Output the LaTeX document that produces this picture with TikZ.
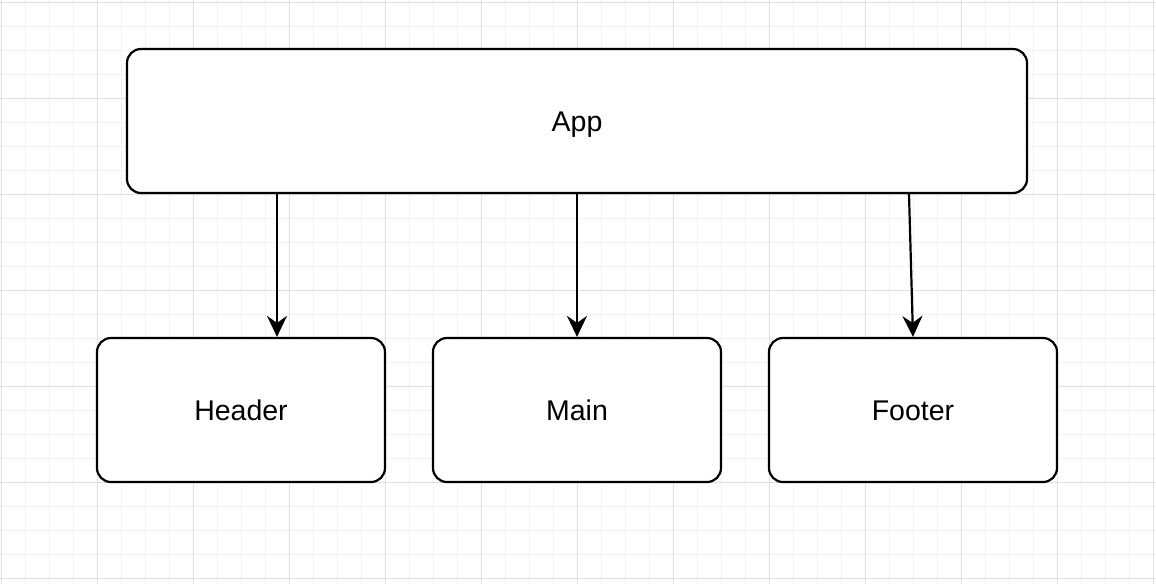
\documentclass[tikz,border=0pt]{standalone}
\usepackage{fontspec}
\setmainfont{Liberation Sans}
\usetikzlibrary{arrows.meta}
\begin{document}
\begin{tikzpicture}[x=1pt,y=-1pt,
  box/.style={draw=black, line width=2.2pt, fill=white, rounded corners=14pt,
    minimum height=144pt, inner sep=0pt, text height=20pt, text depth=0pt,
    font=\fontsize{28.5}{32}\selectfont},
  arrow/.style={draw=black, line width=2.2pt,
    -{Stealth[length=21pt, width=20pt, inset=7pt]}},
  minorgrid/.style={draw=black!5, line width=1pt},
  majorgrid/.style={draw=black!12, line width=1pt}]
  \useasboundingbox (0,0) rectangle (1156,584);
  \fill[white] (0,0) rectangle (1156,584);
  % background grid
  \foreach \x in {1,25,...,1156} \draw[minorgrid] (\x,0) -- (\x,584);
  \foreach \y in {2,26,...,584} \draw[minorgrid] (0,\y) -- (1156,\y);
  \foreach \x in {1,97,...,1156} \draw[majorgrid] (\x,0) -- (\x,584);
  \foreach \y in {2,98,...,584} \draw[majorgrid] (0,\y) -- (1156,\y);
  % components
  \node[box, minimum width=900pt] (App) at (577,121) {App};
  \node[box, minimum width=288pt] (Header) at (241,410) {Header};
  \node[box, minimum width=288pt] (Main) at (577,410) {Main};
  \node[box, minimum width=288pt] (Footer) at (913,410) {Footer};
  % connectors
  \draw[arrow] ([xshift=-300pt]App.south) -- ([xshift=36pt]Header.north);
  \draw[arrow] (App.south) -- (Main.north);
  \draw[arrow] ([xshift=332pt]App.south) -- (Footer.north);
\end{tikzpicture}
\end{document}
